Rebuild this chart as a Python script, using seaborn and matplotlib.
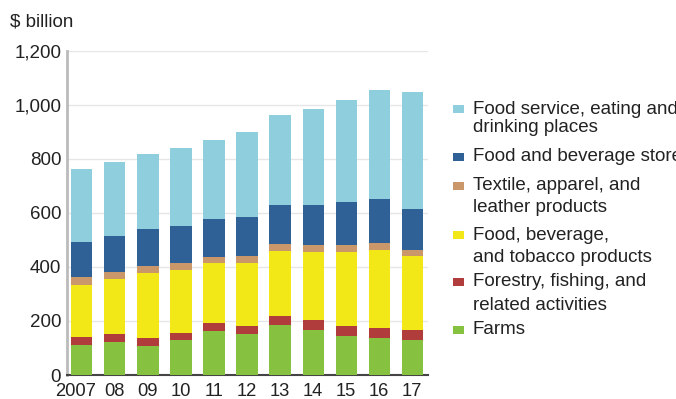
import numpy as np
import pandas as pd
import matplotlib
matplotlib.use("Agg")
import matplotlib.pyplot as plt
import matplotlib.transforms as mtransforms
import seaborn as sns
from matplotlib.patches import Rectangle

years = ["2007", "08", "09", "10", "11", "12", "13", "14", "15", "16", "17"]
farms = [111, 122, 107, 128, 164, 150, 185, 167, 144, 136, 130]
forestry = [30, 30, 29, 29, 30, 33, 35, 35, 37, 38, 35]
food_bev = [192, 202, 243, 231, 219, 230, 239, 252, 273, 287, 274]
textile = [28, 28, 24, 25, 24, 27, 26, 27, 27, 26, 25]
stores = [130, 131, 136, 138, 139, 143, 145, 148, 158, 164, 152]
food_service = [272, 274, 277, 288, 295, 315, 331, 355, 380, 402, 430]

series_names = [["Farms"],
                ["Forestry, fishing, and", "related activities"],
                ["Food, beverage,", "and tobacco products"],
                ["Textile, apparel, and", "leather products"],
                ["Food and beverage stores"],
                ["Food service, eating and", "drinking places"]]
series_vals = [farms, forestry, food_bev, textile, stores, food_service]
colors = ["#86C140", "#B03C3C", "#F2E817", "#C9976A", "#2F6196", "#8FCEDC"]

sns.set_theme(style="white")
plt.rcParams['font.family'] = ['Liberation Sans', 'DejaVu Sans']

fig = plt.figure(figsize=(6.76, 3.99), dpi=100)
ax = fig.add_axes([66.7 / 676, 24 / 399, (428 - 66.7) / 676, (375 - 50.7) / 399])

cum = np.cumsum(np.array(series_vals), axis=0)
df = pd.DataFrame({"year": years})
for i in range(len(series_vals) - 1, -1, -1):
    df["v"] = cum[i]
    sns.barplot(data=df, x="year", y="v", color=colors[i], saturation=1,
                width=0.64, ax=ax, zorder=3, linewidth=0)

ax.set_ylim(0, 1200)
ax.set_xlim(-0.46, 10.48)
ax.set_yticks(range(0, 1201, 200))
ax.set_yticklabels([f"{v:,}" for v in range(0, 1201, 200)])
ax.yaxis.grid(True, color="#E6E6E6", linewidth=1, zorder=0)
ax.set_axisbelow(True)
ax.set_xlabel("")
ax.set_ylabel("")
for s in ["top", "right"]:
    ax.spines[s].set_visible(False)
ax.spines["left"].set_color("#BBBBBB")
ax.spines["left"].set_linewidth(2)
ax.spines["bottom"].set_color("#444444")
ax.spines["bottom"].set_linewidth(1.5)
ax.tick_params(axis="y", length=0, labelsize=13.5, colors="#222222", pad=4)
ax.tick_params(axis="x", length=0, labelsize=13.2, colors="#222222", pad=5.5)
shift = mtransforms.ScaledTranslation(-6 / 100, 0, fig.dpi_scale_trans)
for lbl in ax.get_xticklabels():
    if lbl.get_text() == "2007":
        lbl.set_transform(lbl.get_transform() + shift)

fig.text(10 / 676, 1 - 22 / 399, "$ billion", fontsize=13.5, color="#222222",
         va="center", ha="left")

# legend (manual, top entry first)
leg_lines = [[109, 128], [157], [186, 208], [235, 258], [282, 305], [330]]
order = [5, 4, 3, 2, 1, 0]
for ys, idx in zip(leg_lines, order):
    fig.patches.append(Rectangle((453 / 676, 1 - (ys[0] + 4) / 399), 11 / 676, 8 / 399,
                                 transform=fig.transFigure, color=colors[idx],
                                 linewidth=0))
    for yy, line in zip(ys, series_names[idx]):
        fig.text(473 / 676, 1 - yy / 399, line, fontsize=13.5,
                 color="#222222", va="center", ha="left")

fig.savefig("out.png", dpi=100)
